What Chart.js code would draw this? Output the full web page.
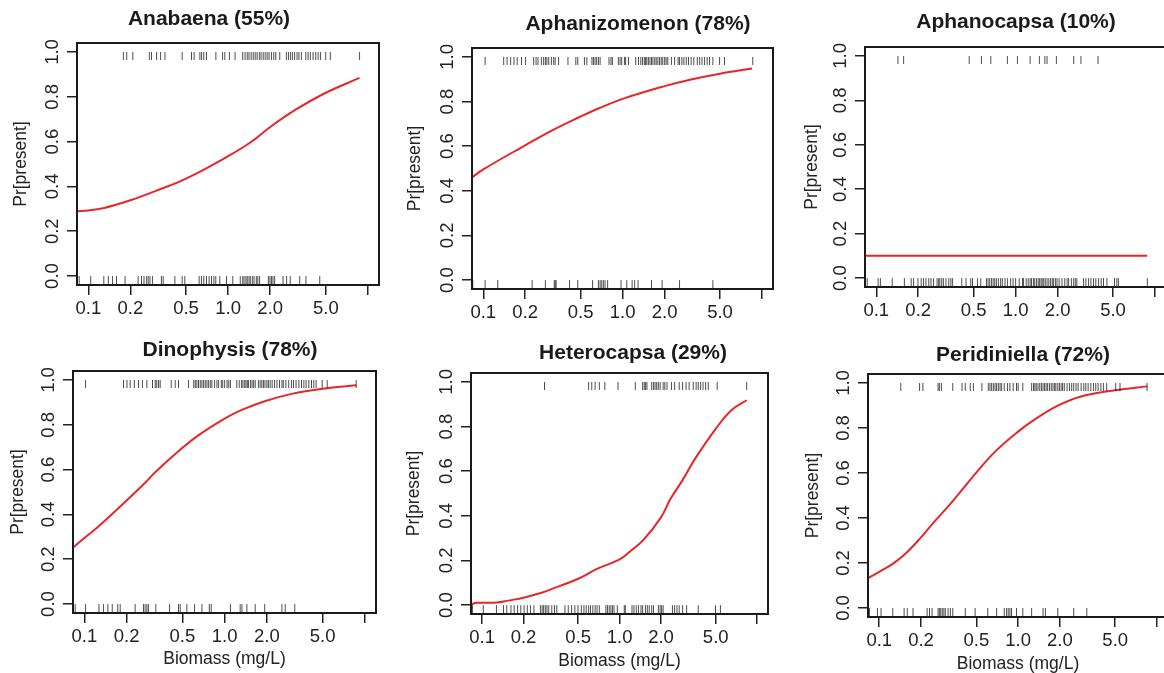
<!DOCTYPE html>
<html><head><meta charset="utf-8">
<script src="https://cdn.jsdelivr.net/npm/chart.js@4.4.1/dist/chart.umd.min.js"></script>
<style>
html,body{margin:0;padding:0;background:#fff;overflow:hidden;width:1164px;height:673px;position:relative}
canvas{position:absolute}
</style></head><body>
<script>
/* ═══ DATA ═══ */
const xTickVals=[0.1,0.2,0.5,1,2,5,10];
const xTickLabels=['0.1','0.2','0.5','1.0','2.0','5.0',''];
const yTickVals=[0,0.2,0.4,0.6,0.8,1];
const yTickLabels=['0.0','0.2','0.4','0.6','0.8','1.0'];
const titles=['Anabaena (55%)','Aphanizomenon (78%)','Aphanocapsa (10%)','Dinophysis (78%)','Heterocapsa (29%)','Peridiniella (72%)'];

// biomass (mg/L) of samples where taxon present / absent, fitted Pr[present]
const anabaenaPresent=[0.178,0.188,0.208,0.273,0.283,0.308,0.329,0.353,0.469,0.547,0.571,0.628,0.646,0.670,0.700,0.817,0.912,0.946,1.02,1.12,1.27,1.32,1.37,1.41,1.46,1.51,1.56,1.61,1.67,1.72,1.78,1.84,1.90,1.96,2.04,2.12,2.19,2.34,2.61,2.70,2.79,2.88,2.99,3.11,3.21,3.34,3.59,3.73,3.87,4.05,4.23,4.40,4.57,4.99,5.38,8.71];
const anabaenaAbsent=[0.086,0.104,0.129,0.139,0.149,0.159,0.183,0.227,0.240,0.250,0.261,0.268,0.276,0.288,0.333,0.343,0.416,0.469,0.490,0.620,0.644,0.670,0.700,0.731,0.760,0.790,0.815,0.872,0.973,1.08,1.22,1.27,1.30,1.34,1.37,1.41,1.44,1.49,1.53,1.59,1.63,1.68,1.94,1.99,2.04,2.09,2.15,2.47,2.62,2.78,3.25,3.60,4.52];
const anabaenaFitX=[0.083,0.1,0.13,0.2,0.31,0.5,1.0,1.45,2.0,3.0,5.0,8.7];
const anabaenaFitP=[0.289,0.293,0.304,0.338,0.382,0.435,0.535,0.597,0.665,0.74,0.818,0.884];

const aphanizPresent=[0.103,0.140,0.148,0.157,0.166,0.175,0.188,0.201,0.230,0.239,0.247,0.261,0.271,0.279,0.286,0.295,0.308,0.320,0.328,0.347,0.405,0.461,0.476,0.532,0.553,0.602,0.617,0.634,0.651,0.670,0.689,0.798,0.825,0.844,0.931,0.958,0.984,1.03,1.05,1.10,1.24,1.30,1.35,1.39,1.43,1.46,1.49,1.53,1.57,1.61,1.65,1.70,1.74,1.79,1.84,1.89,1.94,2.00,2.05,2.11,2.24,2.36,2.50,2.56,2.66,2.75,2.86,2.97,3.10,3.24,3.43,3.57,3.71,3.87,4.04,4.20,4.44,4.96,5.38,8.58];
const aphanizAbsent=[0.084,0.103,0.127,0.224,0.279,0.323,0.328,0.333,0.416,0.476,0.608,0.670,0.689,0.708,0.727,0.748,0.780,0.973,1.07,1.17,1.22,1.29,1.61,1.92,2.56,4.44];
const aphanizFitX=[0.083,0.1,0.2,0.31,0.5,0.67,1.0,2.0,3.1,5.0,8.5];
const aphanizFitP=[0.460,0.496,0.604,0.670,0.733,0.769,0.812,0.869,0.899,0.925,0.948];

const aphanocPresent=[0.143,0.157,0.464,0.568,0.663,0.872,1.03,1.27,1.48,1.62,1.68,1.96,2.61,2.94,3.90];
const aphanocAbsent=[0.086,0.103,0.107,0.130,0.159,0.178,0.185,0.199,0.210,0.218,0.227,0.238,0.247,0.257,0.273,0.280,0.286,0.295,0.303,0.316,0.331,0.343,0.353,0.411,0.440,0.476,0.490,0.532,0.562,0.617,0.634,0.651,0.670,0.689,0.708,0.727,0.752,0.780,0.802,0.839,0.872,0.921,0.958,1.00,1.06,1.12,1.14,1.19,1.23,1.27,1.30,1.34,1.37,1.41,1.45,1.48,1.52,1.55,1.59,1.63,1.68,1.73,1.78,1.83,1.87,1.93,1.98,2.05,2.15,2.25,2.34,2.40,2.51,2.61,2.68,2.75,3.07,3.19,3.34,3.47,3.62,3.76,3.94,4.11,4.27,4.52,5.12,5.32,5.46,8.81];
const aphanocFitX=[0.083,8.8];
const aphanocFitP=[0.101,0.101];

const dinoPresent=[0.102,0.190,0.201,0.212,0.227,0.243,0.259,0.279,0.306,0.320,0.328,0.338,0.347,0.416,0.444,0.469,0.553,0.602,0.617,0.634,0.651,0.670,0.689,0.708,0.727,0.748,0.769,0.790,0.812,0.848,0.881,0.906,0.947,0.968,1.00,1.04,1.07,1.10,1.22,1.27,1.32,1.35,1.39,1.42,1.45,1.48,1.53,1.57,1.61,1.65,1.74,1.79,1.84,1.89,1.94,2.00,2.05,2.11,2.18,2.27,2.36,2.46,2.56,2.62,2.73,2.86,3.00,3.10,3.23,3.38,3.53,3.67,3.81,3.98,4.16,4.32,4.49,4.96,5.38,8.66];
const dinoAbsent=[0.086,0.102,0.127,0.137,0.147,0.158,0.173,0.180,0.230,0.264,0.271,0.279,0.286,0.323,0.405,0.469,0.482,0.538,0.610,0.689,0.777,0.802,1.10,1.29,1.33,1.44,1.65,1.93,2.56,2.70,3.16];
const dinoFitX=[0.083,0.1,0.126,0.2,0.27,0.32,0.5,0.65,1.0,1.3,1.93,3.0,5.0,8.66];
const dinoFitP=[0.252,0.295,0.346,0.462,0.540,0.588,0.697,0.753,0.827,0.864,0.905,0.938,0.961,0.976];

const heteroPresent=[0.284,0.595,0.627,0.663,0.711,0.780,0.973,1.30,1.47,1.51,1.54,1.58,1.71,1.76,1.81,1.86,1.91,1.97,2.07,2.13,2.21,2.38,2.51,2.71,2.87,3.04,3.20,3.43,3.60,3.73,3.88,4.04,4.22,4.41,5.12,8.39];
const heteroAbsent=[0.085,0.102,0.127,0.143,0.151,0.162,0.171,0.181,0.191,0.202,0.213,0.225,0.238,0.265,0.273,0.280,0.288,0.296,0.305,0.321,0.336,0.349,0.400,0.423,0.447,0.472,0.498,0.526,0.550,0.571,0.595,0.614,0.638,0.663,0.685,0.711,0.794,0.815,0.839,0.863,0.886,0.911,0.962,1.08,1.10,1.23,1.27,1.32,1.37,1.43,1.47,1.54,1.59,1.64,1.71,1.76,1.91,1.97,2.02,2.07,2.42,2.51,2.61,2.71,2.87,3.07,3.73,4.98,5.41];
const heteroFitX=[0.083,0.091,0.127,0.158,0.2,0.27,0.34,0.5,0.69,1.0,1.19,1.49,2.0,2.34,2.87,3.6,5.0,6.5,8.4];
const heteroFitP=[0.003,0.010,0.011,0.021,0.033,0.055,0.078,0.118,0.163,0.205,0.240,0.292,0.393,0.475,0.560,0.663,0.790,0.873,0.918];

const peridPresent=[0.143,0.195,0.206,0.265,0.271,0.280,0.338,0.394,0.416,0.452,0.476,0.548,0.610,0.627,0.644,0.663,0.682,0.700,0.720,0.741,0.760,0.794,0.839,0.872,0.921,0.973,1.00,1.08,1.25,1.29,1.32,1.35,1.39,1.43,1.47,1.51,1.55,1.59,1.63,1.68,1.73,1.78,1.83,1.87,1.93,1.98,2.04,2.09,2.15,2.25,2.34,2.43,2.51,2.61,2.70,2.84,2.97,3.07,3.19,3.34,3.49,3.62,3.76,3.94,4.11,4.34,5.04,5.41,8.48];
const peridAbsent=[0.085,0.097,0.103,0.125,0.151,0.159,0.175,0.221,0.230,0.240,0.265,0.271,0.277,0.284,0.292,0.299,0.313,0.325,0.338,0.416,0.490,0.604,0.700,0.794,0.825,0.848,0.872,0.896,0.973,1.08,1.25,1.51,1.57,1.93,2.51,3.12];
const peridFitX=[0.083,0.1,0.125,0.155,0.2,0.24,0.31,0.36,0.5,0.68,1.0,1.32,1.93,2.84,5.0,8.5];
const peridFitP=[0.133,0.161,0.196,0.242,0.314,0.372,0.448,0.495,0.602,0.694,0.784,0.838,0.899,0.940,0.968,0.985];

/* ═══ LAYOUT ═══ */
const FONT="'Liberation Sans', Arial, Helvetica, sans-serif";
// plot box [l,t,r,b], title centre, y-title centre x, x-title centre y (page px)
const frames=[
  {box:[77,43,379,285],  tx:209, ty:19.2, yt:20.7,  xt:null},
  {box:[472,48,773,289], tx:638, ty:24.2, yt:414.7, xt:null},
  {box:[865,47,1166,287],tx:1016,ty:22.2, yt:811.7, xt:null},
  {box:[73,371,376,613], tx:230, ty:350,  yt:17.7,  xt:659},
  {box:[471,373,768,614],tx:633, ty:353.7,yt:413.7, xt:661.5},
  {box:[868,374,1168,617],tx:1023,ty:355, yt:812.7, xt:664}
];

const rugMark=document.createElement('canvas');
rugMark.width=3; rugMark.height=16;
(function(){const r=rugMark.getContext('2d');r.fillStyle='rgba(0,0,0,0.7)';r.fillRect(1,8,1,8);})();

const frameBox={id:'frameBox',afterDatasetsDraw(c){
  const a=c.chartArea,x=c.ctx;
  x.save();x.strokeStyle='#1a1a1a';x.lineWidth=2;
  x.strokeRect(a.left,a.top,a.right-a.left,a.bottom-a.top);x.restore();
}};

function makePanel(i,present,absent,fitX,fitP){
  const f=frames[i],[bl,bt,br,bb]=f.box;
  const YW=70, left=bl-YW;
  const top=Math.floor(f.ty-12.6-2);
  const tPadTop=f.ty-12.6-top, tPadBot=bt-top-tPadTop-25.2;
  const right=Math.max(Math.round(2*f.tx-left),br+5);
  const bottom=f.xt?676:bb+45;
  const cv=document.createElement('canvas');
  cv.width=right-left; cv.height=bottom-top;
  cv.style.left=left+'px'; cv.style.top=top+'px';
  document.body.appendChild(cv);
  const gridOpt={drawOnChartArea:false,drawTicks:true,tickLength:10,color:'#222',lineWidth:1.5};
  const tickFont={family:FONT,size:18.5};
  return new Chart(cv,{
    type:'scatter',
    data:{datasets:[
      {data:present.map(v=>({x:v,y:1})),pointStyle:rugMark,pointRadius:4},
      {data:absent.map(v=>({x:v,y:0})),pointStyle:rugMark,pointRadius:4},
      {data:fitX.map((v,k)=>({x:v,y:fitP[k]})),showLine:true,pointRadius:0,borderColor:'#e8262a',borderWidth:2,tension:0.4}
    ]},
    options:{
      responsive:false,animation:false,events:[],
      layout:{padding:0},
      plugins:{legend:{display:false},tooltip:{enabled:false},
        title:{display:true,text:titles[i],color:'#1a1a1a',font:{family:FONT,size:21,weight:'bold',lineHeight:1.2},padding:{top:tPadTop,bottom:tPadBot}}},
      scales:{
        x:{type:'logarithmic',min:0.083,max:12,
          afterBuildTicks:s=>{s.ticks=xTickVals.map(v=>({value:v}));},
          afterFit:s=>{s.height=bottom-bb;},
          grid:gridOpt,border:{display:false},
          ticks:{autoSkip:false,maxRotation:0,minRotation:0,padding:2.9,color:'#222',font:tickFont,callback:(v,k)=>xTickLabels[k]},
          title:{display:!!f.xt,text:'Biomass (mg/L)',color:'#222',font:{family:FONT,size:17.5},padding:{top:0,bottom:f.xt?bottom-10.5-f.xt:0}}},
        y:{min:-0.04,max:1.04,
          afterBuildTicks:s=>{s.ticks=yTickVals.map(v=>({value:v}));},
          afterFit:s=>{s.width=YW;},
          grid:gridOpt,border:{display:false},
          ticks:{autoSkip:false,minRotation:90,maxRotation:90,crossAlign:'center',padding:1,color:'#222',font:tickFont,callback:(v,k)=>yTickLabels[k]},
          title:{display:true,text:'Pr[present]',color:'#222',font:{family:FONT,size:17.5},padding:{top:f.yt-left-10.5,bottom:0}}},
        pad:{position:'right',display:true,grid:{display:false},ticks:{display:false},border:{display:false},
          afterFit:s=>{s.width=right-br;}}
      }
    },
    plugins:[frameBox]
  });
}

makePanel(0,anabaenaPresent,anabaenaAbsent,anabaenaFitX,anabaenaFitP);
makePanel(1,aphanizPresent,aphanizAbsent,aphanizFitX,aphanizFitP);
makePanel(2,aphanocPresent,aphanocAbsent,aphanocFitX,aphanocFitP);
makePanel(3,dinoPresent,dinoAbsent,dinoFitX,dinoFitP);
makePanel(4,heteroPresent,heteroAbsent,heteroFitX,heteroFitP);
makePanel(5,peridPresent,peridAbsent,peridFitX,peridFitP);
</script>
</body></html>
